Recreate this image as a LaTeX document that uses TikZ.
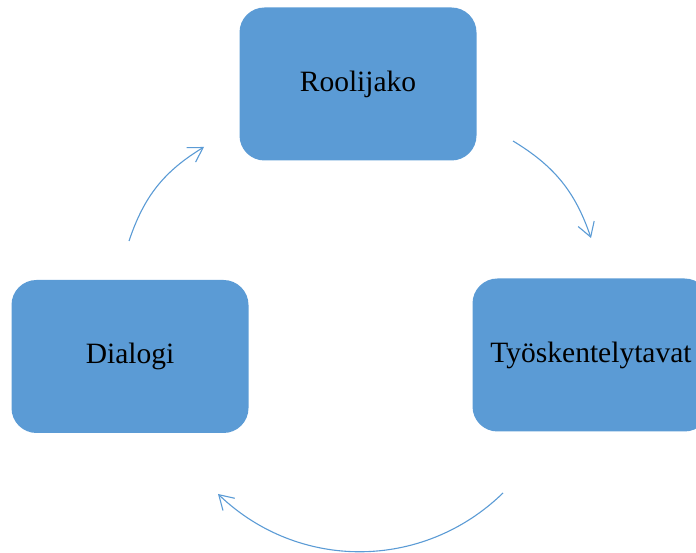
\documentclass[tikz,border=0pt]{standalone}
\usepackage{fontspec}
\setmainfont{Liberation Serif}
\usetikzlibrary{arrows.meta}
\definecolor{boxblue}{HTML}{5B9BD5}
\begin{document}
\begin{tikzpicture}[x=1pt,y=1pt,
  stage/.style={fill=boxblue, draw=none, rounded corners=25pt,
    minimum width=237pt, minimum height=153pt, inner sep=0pt,
    font=\fontsize{29.5}{35}\selectfont, text=black},
  cyc/.style={draw=boxblue, line width=1.1pt,
    -{Straight Barb[length=14pt,width=17pt,line width=1.1pt]}}]
\useasboundingbox (0,0) rectangle (696,553);
\clip (0,0) rectangle (696,553);
\node[stage] (rool) at (358,469) {Roolijako};
\node[stage] (tyos) at (591,198) {Työskentelytavat};
\node[stage] (dial) at (130,196.5) {Dialogi};
% arc endpoints (free ends)
\coordinate (a1s) at (129,312);
\coordinate (a1e) at (204,406);
\coordinate (a2s) at (513,412);
\coordinate (a2e) at (591,315);
\coordinate (a3s) at (503,60);
\coordinate (a3e) at (218,59);
\draw[cyc] (a1s) to[bend left=20] (a1e);
\draw[cyc] (a2s) to[bend left=20] (a2e);
\draw[cyc] (a3s) to[bend left=44] (a3e);
\end{tikzpicture}
\end{document}
